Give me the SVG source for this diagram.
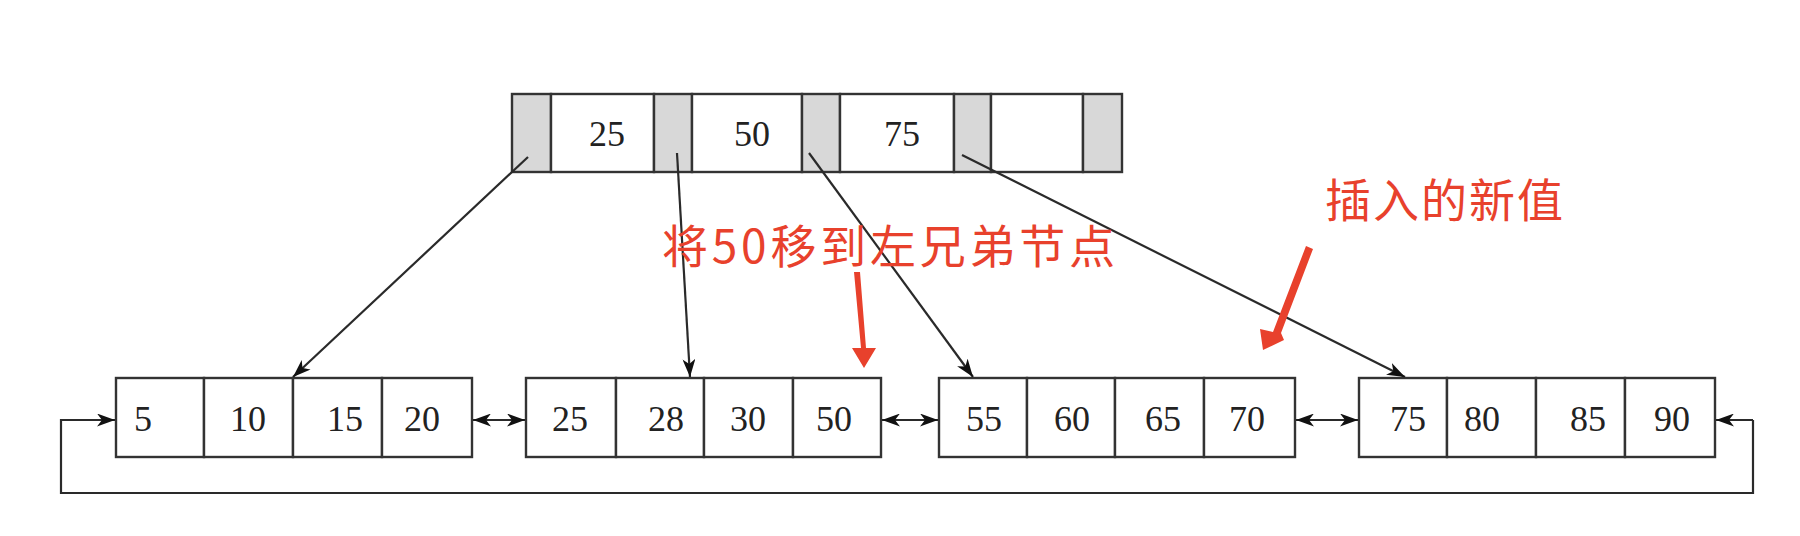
<svg xmlns="http://www.w3.org/2000/svg" width="1800" height="536" viewBox="0 0 1800 536">
<style>
.bg{fill:#ffffff}
.cell{fill:#ffffff;stroke:#333;stroke-width:2.4}
.ptr{fill:#d8d8d8;stroke:#333;stroke-width:2.4}
.num{font-family:"Liberation Serif","Times New Roman",serif;font-size:36px;fill:#222;text-anchor:middle}
.conn{fill:none;stroke:#2a2a2a;stroke-width:2.2}
.note{font-family:"Noto Sans CJK SC","Noto Sans",sans-serif;font-size:46px;fill:#e8412c}
.red{fill:#e8412c}
</style>
<defs>
<marker id="ah" viewBox="0 0 18 13" refX="18" refY="6.5" markerWidth="18" markerHeight="13" markerUnits="userSpaceOnUse" orient="auto-start-reverse">
<path d="M0,0 L18,6.5 L0,13 L5,6.5 z" fill="#111"/>
</marker>
</defs>
<rect class="bg" x="0" y="0" width="1800" height="536"/>

<g id="root">
<rect class="ptr" x="512" y="94" width="39" height="78"/>
<rect class="cell" x="551" y="94" width="103" height="78"/>
<rect class="ptr" x="654" y="94" width="38" height="78"/>
<rect class="cell" x="692" y="94" width="110" height="78"/>
<rect class="ptr" x="802" y="94" width="38" height="78"/>
<rect class="cell" x="840" y="94" width="114" height="78"/>
<rect class="ptr" x="954" y="94" width="37" height="78"/>
<rect class="cell" x="991" y="94" width="92" height="78"/>
<rect class="ptr" x="1083" y="94" width="39" height="78"/>
<text class="num" x="607" y="146">25</text>
<text class="num" x="752" y="146">50</text>
<text class="num" x="902" y="146">75</text>
</g>

<g id="leaf1">
<rect class="cell" x="116" y="378" width="88" height="79"/>
<rect class="cell" x="204" y="378" width="89" height="79"/>
<rect class="cell" x="293" y="378" width="89" height="79"/>
<rect class="cell" x="382" y="378" width="90" height="79"/>
<text class="num" x="143" y="431">5</text>
<text class="num" x="248" y="431">10</text>
<text class="num" x="345" y="431">15</text>
<text class="num" x="422" y="431">20</text>
</g>

<g id="leaf2">
<rect class="cell" x="526" y="378" width="90" height="79"/>
<rect class="cell" x="616" y="378" width="88" height="79"/>
<rect class="cell" x="704" y="378" width="89" height="79"/>
<rect class="cell" x="793" y="378" width="88" height="79"/>
<text class="num" x="570" y="431">25</text>
<text class="num" x="666" y="431">28</text>
<text class="num" x="748" y="431">30</text>
<text class="num" x="834" y="431">50</text>
</g>

<g id="leaf3">
<rect class="cell" x="939" y="378" width="88" height="79"/>
<rect class="cell" x="1027" y="378" width="88" height="79"/>
<rect class="cell" x="1115" y="378" width="89" height="79"/>
<rect class="cell" x="1204" y="378" width="91" height="79"/>
<text class="num" x="984" y="431">55</text>
<text class="num" x="1072" y="431">60</text>
<text class="num" x="1163" y="431">65</text>
<text class="num" x="1247" y="431">70</text>
</g>

<g id="leaf4">
<rect class="cell" x="1359" y="378" width="88" height="79"/>
<rect class="cell" x="1447" y="378" width="89" height="79"/>
<rect class="cell" x="1536" y="378" width="89" height="79"/>
<rect class="cell" x="1625" y="378" width="90" height="79"/>
<text class="num" x="1408" y="431">75</text>
<text class="num" x="1482" y="431">80</text>
<text class="num" x="1588" y="431">85</text>
<text class="num" x="1672" y="431">90</text>
</g>

<g id="connectors">
<line class="conn" x1="528" y1="157" x2="293" y2="377" marker-end="url(#ah)"/>
<line class="conn" x1="677" y1="153" x2="690" y2="377" marker-end="url(#ah)"/>
<line class="conn" x1="809" y1="153" x2="973" y2="377" marker-end="url(#ah)"/>
<line class="conn" x1="962" y1="155" x2="1405" y2="377" marker-end="url(#ah)"/>
<line class="conn" x1="473" y1="420" x2="525" y2="420" marker-start="url(#ah)" marker-end="url(#ah)"/>
<line class="conn" x1="882" y1="420" x2="938" y2="420" marker-start="url(#ah)" marker-end="url(#ah)"/>
<line class="conn" x1="1296" y1="420" x2="1358" y2="420" marker-start="url(#ah)" marker-end="url(#ah)"/>
<polyline class="conn" points="1753,420 1753,493 61,493 61,420 115,420" marker-end="url(#ah)"/>
<line class="conn" x1="1753" y1="420" x2="1716" y2="420" marker-end="url(#ah)"/>
</g>

<g id="note-move">
<text class="note" x="662" y="263" textLength="453" lengthAdjust="spacing">将50移到左兄弟节点</text>
<polygon class="red" points="854,272 860,272 866,348 876,348 864,368 852,348 861,348"/>
</g>

<g id="note-insert">
<text class="note" x="1325" y="217" textLength="238" lengthAdjust="spacing">插入的新值</text>
<polygon class="red" points="1306,246 1313,249 1281,333 1284,340 1263,350 1260,329 1273,332"/>
</g>
</svg>
